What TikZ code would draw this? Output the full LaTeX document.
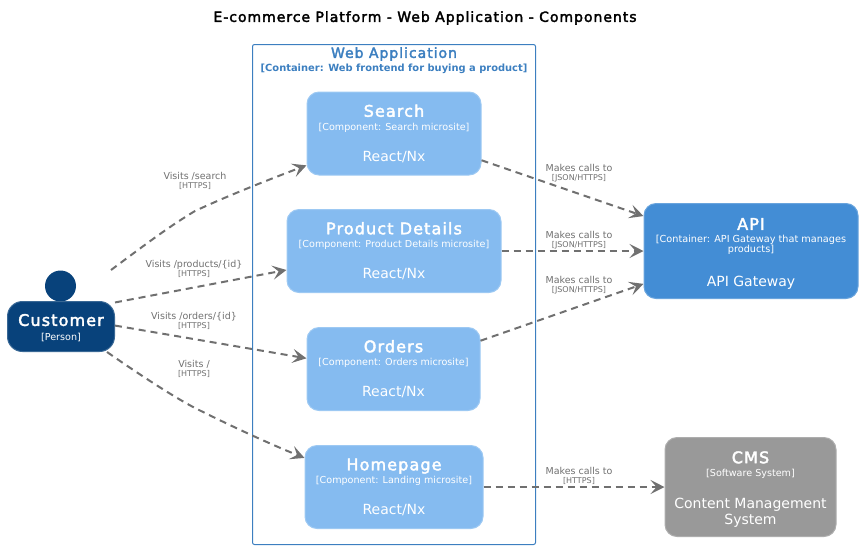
\documentclass[tikz,border=0pt]{standalone}
\usepackage{fontspec}
\setmainfont{DejaVu Sans}
\newfontface\headfont[FakeBold=2.5, LetterSpace=7]{DejaVu Sans}
\usepackage{xcolor}
\usetikzlibrary{arrows.meta}
\definecolor{personblue}{HTML}{08427B}
\definecolor{containerblue}{HTML}{438DD5}
\definecolor{componentblue}{HTML}{85BBF0}
\definecolor{systemgrey}{HTML}{999999}
\definecolor{boundaryblue}{HTML}{3C7FC0}
\definecolor{edgegrey}{HTML}{707070}
\newcommand{\fsize}[1]{\fontsize{#1}{#1}\selectfont}
\newcommand{\boxtext}[3]{\rule{0pt}{12.5pt}{\fsize{16}\headfont #1}\\[1.5pt]{\fsize{9.6}#2}\\[18pt]{\fsize{14}#3}}
\newcommand{\edgetext}[2]{{\fsize{9.5}#1}\\[-3pt]{\fsize{8}#2}}
\tikzset{
    tbox/.style = {align=center, inner sep=0pt, text centered, rounded corners=12pt, white, line width=1pt},
    component/.style = {tbox, rectangle, draw=componentblue!80!white, fill=componentblue, minimum height=83pt},
    container/.style = {tbox, rectangle, draw=containerblue!80!white, fill=containerblue, minimum height=95pt},
    softsys/.style = {tbox, rectangle, draw=systemgrey!80!white, fill=systemgrey, minimum height=99pt},
    customerbox/.style = {tbox, rectangle, draw=personblue!80!white, fill=personblue, minimum height=50pt, minimum width=107pt, rounded corners=15pt},
    head/.style = {circle, fill=personblue, inner sep=0pt, minimum size=31pt},
    boundary/.style = {rectangle, draw=boundaryblue, rounded corners=2pt, line width=1pt, minimum width=283pt, minimum height=500pt},
    calls/.style = {draw=edgegrey, line width=2pt, dash pattern=on 7pt off 5pt, -{Stealth[length=14pt, width=14pt, inset=6pt]}},
    elabel/.style = {align=center, inner sep=0pt, text=edgegrey}
}
\begin{document}
\begin{tikzpicture}[x=1pt, y=-1pt]
    \useasboundingbox (0,0) rectangle (862,550);

    \node [align=center, inner sep=0pt] (title) at (425,18) {\fsize{14}\headfont E-commerce Platform - Web Application - Components};

    \node [boundary] (webapp) at (394,294.5) {};
    \node [align=center, inner sep=0pt, text=boundaryblue] (webapptitle) at (394,54) {\fsize{14}\headfont Web Application};
    \node [align=center, inner sep=0pt, text=boundaryblue] (webappsub) at (394,68.5) {\fsize{9.9}\bfseries [Container: Web frontend for buying a product]};

    \node [component, minimum width=174pt] (search) at (394,133.5)
        {\boxtext{Search}{[Component: Search microsite]}{React/Nx}};
    \node [component, minimum width=214pt] (details) at (394,251)
        {\boxtext{Product Details}{[Component: Product Details microsite]}{React/Nx}};
    \node [component, minimum width=173pt] (orders) at (393.5,369)
        {\boxtext{Orders}{[Component: Orders microsite]}{React/Nx}};
    \node [component, minimum width=178pt] (homepage) at (394,487)
        {\boxtext{Homepage}{[Component: Landing microsite]}{React/Nx}};

    \node [container, minimum width=214pt] (api) at (751,251)
        {\rule{0pt}{17pt}{\fsize{16}\headfont API}\\[1pt]{\fsize{9.7}[Container: API Gateway that manages}\\[-2pt]{\fsize{9.7}products]}\\[20pt]{\fsize{14}API Gateway}};
    \node [softsys, minimum width=171pt] (cms) at (750.5,487)
        {\rule{0pt}{17pt}{\fsize{16}\headfont CMS}\\[1pt]{\fsize{9.6}[Software System]}\\[19pt]{\fsize{14}Content Management}\\[2pt]{\fsize{14}System}};

    \node [head] (customerhead) at (60.5,286) {};
    \node [customerbox] (customer) at (61,326.5)
        {\rule{0pt}{15pt}{\fsize{16}\headfont Customer}\\[3pt]{\fsize{9.6}[Person]}};

    \coordinate (searchstart) at (111,270);

    \draw [calls] (searchstart) .. controls (150,241) and (170,226) .. (195,211) .. controls (225,197) and (265,181) .. (search.200);
    \draw [calls] (customer.24) -- (details.190);
    \draw [calls] (customer.1) -- (orders.173);
    \draw [calls] (customer.-29) .. controls (130,368) and (170,395) .. (195,408) .. controls (225,423) and (265,442) .. (homepage.162.5);
    \draw [calls] (search.-17.5) -- (api.162);
    \draw [calls] (details.east) -- (api.west);
    \draw [calls] (orders.18) -- (api.197.6);
    \draw [calls] (homepage.east) -- (cms.west);

    \node [elabel] (visitssearch) at (195,181.3) {\edgetext{Visits /search}{[HTTPS]}};
    \node [elabel] (visitsdetails) at (194,268.5) {\edgetext{Visits /products/\{id\}}{[HTTPS]}};
    \node [elabel] (visitsorders) at (194,321.3) {\edgetext{Visits /orders/\{id\}}{[HTTPS]}};
    \node [elabel] (visitshome) at (194,369) {\edgetext{Visits /}{[HTTPS]}};
    \node [elabel] (callssearch) at (579,173) {\edgetext{Makes calls to}{[JSON/HTTPS]}};
    \node [elabel] (callsdetails) at (579,240) {\edgetext{Makes calls to}{[JSON/HTTPS]}};
    \node [elabel] (callsorders) at (579,285) {\edgetext{Makes calls to}{[JSON/HTTPS]}};
    \node [elabel] (callscms) at (579,476.3) {\edgetext{Makes calls to}{[HTTPS]}};
\end{tikzpicture}
\end{document}
